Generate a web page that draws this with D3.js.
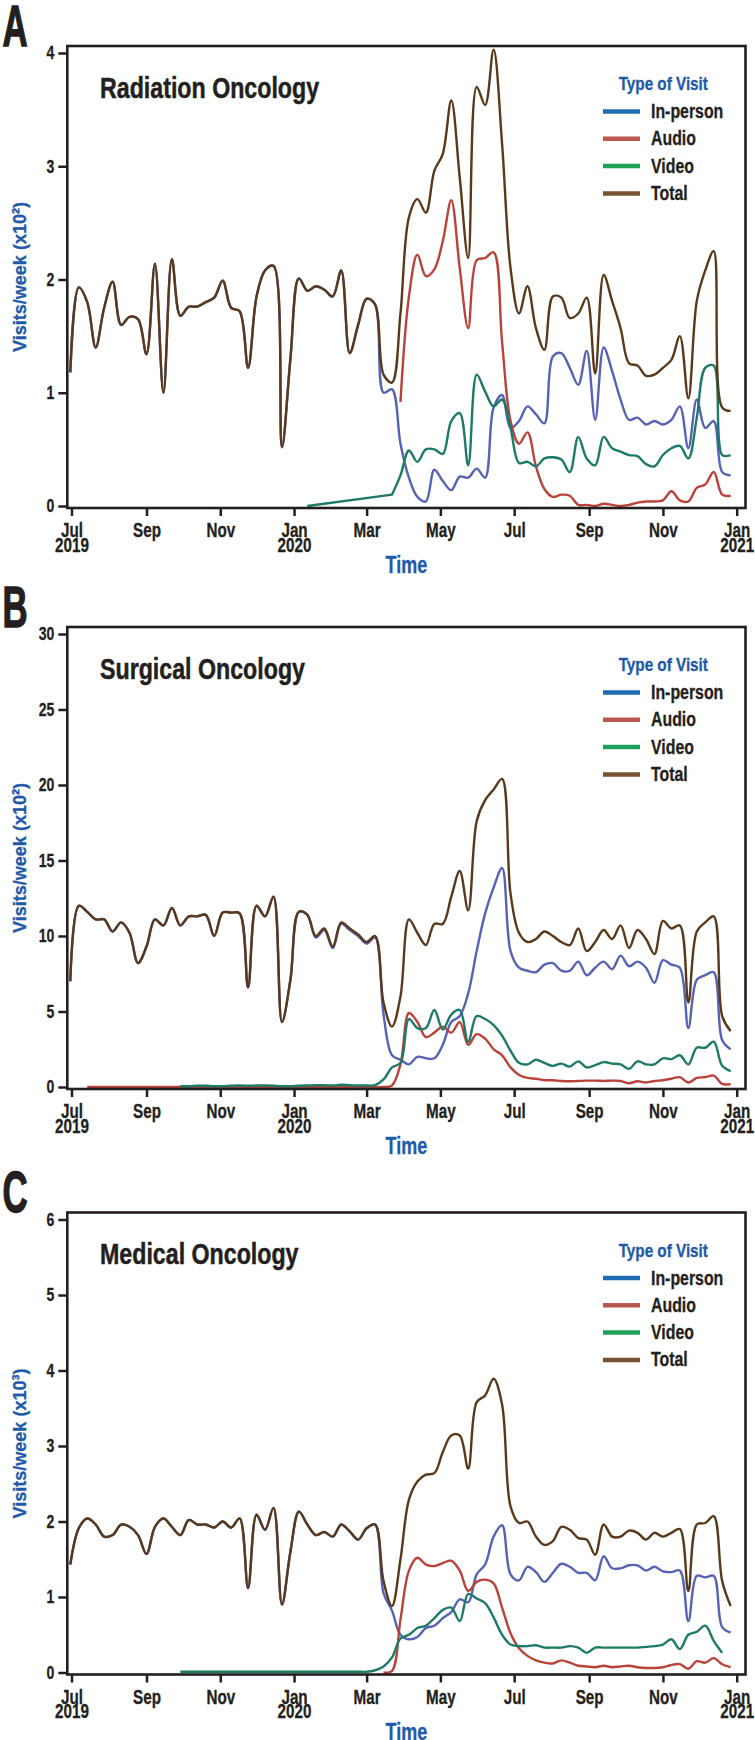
<!DOCTYPE html>
<html><head><meta charset="utf-8">
<script src="https://cdn.jsdelivr.net/npm/d3@7"></script>
<style>
html,body{margin:0;padding:0;background:#fff;}
svg{display:block;}
text{font-family:"Liberation Sans",Arial,sans-serif;font-weight:700;}
</style></head><body>
<svg id="chart" width="755" height="1740"></svg>
<script>
// ---------- categories / labels ----------
const seriesNames = ["In-person", "Audio", "Video", "Total"];
const monthLabels = ["Jul", "Sep", "Nov", "Jan", "Mar", "May", "Jul", "Sep", "Nov", "Jan"];
const yearLabels  = ["2019", "", "", "2020", "", "", "", "", "", "2021"];
const panelLetters = ["A", "B", "C"];
const panelTitles = ["Radiation Oncology", "Surgical Oncology", "Medical Oncology"];
const yAxisLabels = ["Visits/week (x10\u00B2)", "Visits/week (x10\u00B2)", "Visits/week (x10\u00B3)"];
const yTicksRad = [0, 1, 2, 3, 4];
const yTicksSurg = [0, 5, 10, 15, 20, 25, 30];
const yTicksMed = [0, 1, 2, 3, 4, 5, 6];
const legendTitle = "Type of Visit";
const xAxisTitle = "Time";

// first week (Sunday) of each weekly series
const totalStart = "2019-06-30";
const radAudioStart = "2020-03-29";
const radVideoStart = "2020-01-12";
const surgAudioStart = "2019-07-14";
const surgVideoStart = "2019-09-29";
const medAudioStart = "2020-03-15";
const medVideoStart = "2019-09-29";

// ---------- A: Radiation Oncology (x10^2 visits/week) ----------
const radTotal = [1.18,1.93,1.80,1.40,1.75,1.98,1.60,1.67,1.65,1.34,
  2.14,1.00,2.18,1.68,1.76,1.76,1.80,1.84,1.99,1.75,
  1.72,1.22,1.85,2.08,2.12,0.52,1.30,2.01,1.90,1.94,
  1.91,1.85,2.08,1.35,1.60,1.83,1.78,1.16,1.09,1.70,
  2.55,2.71,2.59,2.96,3.11,3.58,2.90,2.19,3.70,3.54,
  4.03,3.20,2.10,1.70,1.94,1.57,1.38,1.85,1.84,1.66,
  1.70,1.84,1.17,2.04,1.81,1.57,1.26,1.24,1.15,1.16,
  1.22,1.29,1.50,0.95,1.81,2.08,2.25,0.87,0.84];
const radInPerson = [1.18,1.93,1.80,1.40,1.75,1.98,1.60,1.67,1.65,1.34,
  2.14,1.00,2.18,1.68,1.76,1.76,1.80,1.84,1.99,1.75,
  1.72,1.22,1.85,2.08,2.12,0.52,1.30,2.01,1.90,1.94,
  1.91,1.85,2.08,1.35,1.60,1.83,1.78,1.00,1.03,0.55,
  0.25,0.08,0.04,0.32,0.22,0.14,0.26,0.25,0.33,0.25,
  0.87,0.98,0.69,0.75,0.88,0.81,0.73,1.32,1.35,1.22,
  1.07,1.37,0.76,1.40,1.19,0.94,0.76,0.78,0.72,0.75,
  0.72,0.76,0.88,0.51,0.94,0.69,0.75,0.30,0.27];
const radAudio = [0.92,1.85,2.22,2.03,2.09,2.34,2.70,2.10,1.57,2.17,
  2.19,2.24,1.45,0.75,0.55,0.65,0.35,0.15,0.08,0.10,
  0.09,0.01,0.01,0.00,0.02,0.01,0.00,0.01,0.03,0.04,
  0.04,0.05,0.13,0.05,0.04,0.16,0.19,0.30,0.10,0.09];
const radVideo = [0.00,null,null,null,null,null,null,null,null,null,
  0.10,0.27,0.49,0.39,0.50,0.50,0.46,0.75,0.82,0.36,
  1.16,1.01,0.88,0.94,0.69,0.38,0.39,0.35,0.42,0.43,
  0.41,0.30,0.61,0.42,0.36,0.61,0.51,0.48,0.45,0.44,
  0.37,0.35,0.45,0.51,0.53,0.42,0.78,1.22,1.24,0.45,0.45];

// ---------- B: Surgical Oncology (x10^2 visits/week) ----------
const surgTotal = [7.0,12.0,11.6,11.1,11.1,10.3,10.9,10.2,8.2,9.3,
  11.1,10.7,11.85,10.7,11.3,11.3,11.4,10.0,11.55,11.55,
  11.5,6.6,12.0,11.3,12.6,4.3,7.1,11.6,11.4,10.0,
  10.5,9.3,10.9,10.5,10.1,9.6,10.0,5.6,4.0,6.0,
  11.1,10.2,9.4,10.8,10.8,12.6,14.3,11.7,17.6,19.0,
  19.7,20.4,12.8,10.2,9.6,9.8,10.3,10.0,9.6,9.4,
  10.5,9.0,9.6,10.4,9.8,10.7,9.2,10.4,9.8,8.8,
  11.0,10.5,10.7,5.6,10.3,10.9,11.3,4.7,3.7];
const surgInPerson = [7.0,12.0,11.6,11.1,11.1,10.3,10.9,10.2,8.2,9.3,
  11.1,10.7,11.85,10.7,11.3,11.3,11.4,10.0,11.55,11.55,
  11.5,6.6,12.0,11.3,12.6,4.3,7.1,11.6,11.4,9.9,
  10.4,9.2,10.8,10.4,10.0,9.5,9.9,4.8,2.1,1.8,
  1.5,2.0,1.9,1.9,2.8,4.3,4.7,6.2,9.0,11.5,
  13.2,14.5,9.0,7.9,7.7,7.6,8.1,8.2,7.7,7.7,
  8.3,7.4,7.9,8.3,7.8,8.7,8.0,8.3,7.9,6.9,
  8.4,8.1,7.9,3.9,7.1,7.4,7.6,3.1,2.5];
const surgAudio = [0,0,0,0,0,0,0,0,0,0,
  0,0,0,0,0,0,0,0,0,0,
  0,0,0,0,0,0,0,0,0,0,
  0,0,0,0,0,0,0.1,1.5,4.9,4.3,
  3.3,3.6,4.0,3.6,4.3,2.8,3.5,3.2,2.5,2.1,
  1.3,0.8,0.6,0.55,0.45,0.45,0.4,0.38,0.4,0.42,
  0.42,0.4,0.42,0.4,0.25,0.38,0.3,0.4,0.45,0.55,
  0.65,0.3,0.6,0.65,0.75,0.2,0.2];
const surgVideo = [0.05,0.05,0.08,0.08,0.05,0.05,0.08,0.10,0.08,0.10,
  0.10,0.08,0.05,0.05,0.08,0.10,0.12,0.12,0.10,0.15,
  0.12,0.10,0.10,0.12,0.5,1.3,1.6,4.5,3.9,3.9,
  5.1,3.8,4.8,5.1,3.0,4.7,4.5,4.1,3.4,2.4,
  1.6,1.5,1.8,1.6,1.4,1.55,1.35,1.7,1.3,1.45,
  1.65,1.55,1.5,1.2,1.7,1.5,1.5,1.9,1.85,2.1,
  1.5,2.6,2.6,3.0,1.4,1.05];

// ---------- C: Medical Oncology (x10^3 visits/week) ----------
const medTotal = [1.43,1.91,2.04,1.96,1.80,1.82,1.96,1.93,1.82,1.57,
  1.93,2.04,1.93,1.82,2.02,1.96,1.96,1.92,2.00,1.92,
  2.04,1.12,2.09,1.89,2.18,0.90,1.60,2.13,1.96,1.82,
  1.86,1.80,1.96,1.87,1.76,1.91,1.96,1.21,0.88,1.50,
  2.29,2.53,2.62,2.64,2.92,3.14,3.14,2.70,3.58,3.67,
  3.89,3.55,2.20,1.98,2.00,1.80,1.69,1.74,1.93,1.89,
  1.78,1.76,1.56,1.96,1.80,1.80,1.88,1.85,1.76,1.85,
  1.80,1.85,1.90,1.08,1.96,1.98,2.07,1.21,0.88];
const medInPerson = [1.43,1.91,2.04,1.96,1.80,1.82,1.96,1.93,1.82,1.57,
  1.93,2.04,1.93,1.82,2.02,1.96,1.96,1.92,2.00,1.92,
  2.04,1.12,2.09,1.89,2.18,0.90,1.60,2.13,1.96,1.82,
  1.86,1.80,1.96,1.87,1.76,1.91,1.96,1.05,0.82,0.50,
  0.44,0.47,0.59,0.62,0.72,0.80,0.97,0.93,1.30,1.43,
  1.80,1.95,1.30,1.22,1.40,1.33,1.20,1.32,1.44,1.40,
  1.32,1.32,1.22,1.54,1.38,1.38,1.42,1.42,1.35,1.40,
  1.34,1.33,1.35,0.68,1.28,1.26,1.28,0.60,0.53];
const medAudio = [0.00,0.02,0.70,1.35,1.52,1.43,1.41,1.45,1.48,1.35,
  1.08,1.20,1.23,1.18,0.86,0.52,0.32,0.22,0.16,0.13,
  0.12,0.16,0.13,0.09,0.08,0.07,0.09,0.07,0.08,0.09,
  0.07,0.06,0.06,0.07,0.10,0.11,0.05,0.15,0.13,0.19,0.11,0.07];
const medVideo = [0.01,0.01,0.01,0.01,0.01,0.01,0.01,0.01,0.01,0.01,
  0.01,0.01,0.01,0.01,0.01,0.01,0.01,0.01,0.01,0.01,
  0.01,0.01,0.01,0.03,0.08,0.20,0.45,0.50,0.59,0.62,
  0.72,0.83,0.86,0.68,1.04,0.98,0.92,0.73,0.50,0.37,
  0.35,0.35,0.36,0.33,0.33,0.33,0.35,0.33,0.26,0.33,
  0.33,0.33,0.33,0.33,0.33,0.34,0.35,0.37,0.44,0.31,
  0.50,0.54,0.62,0.42,0.26];

// ---------- styles ----------
const lineColors = ["#5662b2", "#b9433a", "#1d7a68", "#5a391b"];
const legendColors = ["#1f6cb4", "#b9584c", "#1ea25a", "#7a5331"];
const inkColor = "#231f20";
const blueText = "#1f5aa8";

// ---------- build ----------
const parse = d3.timeParse("%Y-%m-%d");
function weekly(start, values) {
  const s = parse(start);
  return values.map((v, j) => ({date: d3.timeWeek.offset(s, j), v: v}));
}
function condense(sel, k) {
  sel.each(function () {
    const w = this.getComputedTextLength();
    if (w > 0) d3.select(this).attr("textLength", w * k).attr("lengthAdjust", "spacingAndGlyphs");
  });
}
function fitWidth(sel, w) {
  sel.attr("textLength", w).attr("lengthAdjust", "spacingAndGlyphs");
}

const panels = [
  {top: 46, yMax: 4, yTicks: yTicksRad,
   series: [weekly(totalStart, radInPerson), weekly(radAudioStart, radAudio), weekly(radVideoStart, radVideo), weekly(totalStart, radTotal)]},
  {top: 627, yMax: 30, yTicks: yTicksSurg,
   series: [weekly(totalStart, surgInPerson), weekly(surgAudioStart, surgAudio), weekly(surgVideoStart, surgVideo), weekly(totalStart, surgTotal)]},
  {top: 1212.5, yMax: 6, yTicks: yTicksMed,
   series: [weekly(totalStart, medInPerson), weekly(medAudioStart, medAudio), weekly(medVideoStart, medVideo), weekly(totalStart, medTotal)]}
];

const svg = d3.select("#chart");
const frameL = 67.3, frameR = 745.5, frameH = 462;
const x = d3.scaleTime().domain([new Date(2019, 6, 1), new Date(2021, 0, 1)]).range([71.5, 736.7]);
const tickDates = d3.timeMonth.every(2).range(new Date(2019, 6, 1), new Date(2021, 0, 2));

panels.forEach((p, pi) => {
  const g = svg.append("g");
  const top = p.top;
  const y = d3.scaleLinear().domain([0, p.yMax]).range([top + 460, top + 7]);

  // lines: smooth within runs of weekly data, straight across gaps with no data
  const line = d3.line().x(d => x(d.date)).y(d => y(d.v)).curve(d3.curveCatmullRom.alpha(0.5));
  p.series.forEach((s, si) => {
    const runs = [];
    let cur = [];
    s.forEach(pt => {
      if (pt.v === null) { if (cur.length) runs.push(cur); cur = []; }
      else cur.push(pt);
    });
    if (cur.length) runs.push(cur);
    const d = runs.map((r, ri) => {
      let str = r.length === 1 ? `M${x(r[0].date)},${y(r[0].v)}` : line(r);
      return ri === 0 ? str : "L" + str.slice(1);
    }).join("");
    g.append("path").attr("d", d)
      .attr("fill", "none").attr("stroke", lineColors[si])
      .attr("stroke-width", 2.4).attr("stroke-linejoin", "round");
  });

  // frame
  g.append("rect").attr("x", frameL).attr("y", top).attr("width", frameR - frameL).attr("height", frameH)
    .attr("fill", "none").attr("stroke", inkColor).attr("stroke-width", 2.6);

  // x axis
  const xa = g.append("g").attr("transform", `translate(0,${top + frameH})`).attr("color", inkColor)
    .call(d3.axisBottom(x).tickValues(tickDates).tickSize(8).tickFormat(""));
  xa.select(".domain").remove();
  xa.selectAll(".tick line").attr("stroke-width", 2.5);
  xa.selectAll(".tick text").remove();
  const lab = xa.selectAll(".tick").append("text").attr("text-anchor", "middle")
    .attr("font-size", 19.5).attr("fill", inkColor).attr("stroke", inkColor).attr("stroke-width", 0.3);
  lab.append("tspan").attr("class", "mon").attr("x", 0).attr("y", 29).text((d, i) => monthLabels[i]);
  lab.filter((d, i) => yearLabels[i] !== "").append("tspan").attr("class", "yr").attr("x", 0).attr("y", 43.7)
    .text((d, i, nodes) => yearLabels[tickDates.findIndex(t => +t === +d)]);
  condense(xa.selectAll("tspan"), 0.78);

  // y axis
  const ya = g.append("g").attr("transform", `translate(${frameL},0)`).attr("color", inkColor)
    .call(d3.axisLeft(y).tickValues(p.yTicks).tickSize(9).tickPadding(4).tickFormat(d3.format("d")));
  ya.select(".domain").remove();
  ya.selectAll(".tick line").attr("stroke-width", 2.5);
  ya.selectAll(".tick text").attr("font-size", 18).attr("fill", inkColor)
    .attr("stroke", inkColor).attr("stroke-width", 0.3);
  condense(ya.selectAll(".tick text"), 0.78);

  // axis titles
  const xt = g.append("text").attr("x", (frameL + frameR) / 2).attr("y", top + 527)
    .attr("text-anchor", "middle").attr("font-size", 23).attr("fill", blueText)
    .attr("stroke", blueText).attr("stroke-width", 0.3).text(xAxisTitle);
  condense(xt, 0.78);
  const yt = g.append("text").attr("transform", `translate(26,${top + frameH / 2}) rotate(-90)`)
    .attr("text-anchor", "middle").attr("font-size", 19).attr("fill", blueText)
    .attr("stroke", blueText).attr("stroke-width", 0.3).text(yAxisLabels[pi]);
  fitWidth(yt, 150);

  // panel letter
  const lt = g.append("text").attr("x", 2.5).attr("y", top - 0.5).attr("font-size", 58)
    .attr("fill", inkColor).attr("stroke", inkColor).attr("stroke-width", 1.4).text(panelLetters[pi]);
  condense(lt, 0.6);

  // title
  const tt = g.append("text").attr("x", 100).attr("y", top + 51.5).attr("font-size", 29)
    .attr("fill", inkColor).attr("stroke", inkColor).attr("stroke-width", 0.5).text(panelTitles[pi]);
  condense(tt, 0.8);

  // legend
  const lg = g.append("g");
  const lgt = lg.append("text").attr("x", 663.3).attr("y", top + 44).attr("text-anchor", "middle")
    .attr("font-size", 18.6).attr("fill", blueText).attr("stroke", blueText).attr("stroke-width", 0.3)
    .text(legendTitle);
  condense(lgt, 0.82);
  seriesNames.forEach((name, si) => {
    const ly = top + 65.5 + si * 27.3;
    lg.append("line").attr("x1", 603).attr("x2", 640).attr("y1", ly).attr("y2", ly)
      .attr("stroke", legendColors[si]).attr("stroke-width", 4.5);
    const t = lg.append("text").attr("x", 651).attr("y", ly + 6.5).attr("font-size", 19.6)
      .attr("fill", inkColor).attr("stroke", inkColor).attr("stroke-width", 0.3).text(name);
    condense(t, 0.81);
  });
});
</script>
</body></html>
